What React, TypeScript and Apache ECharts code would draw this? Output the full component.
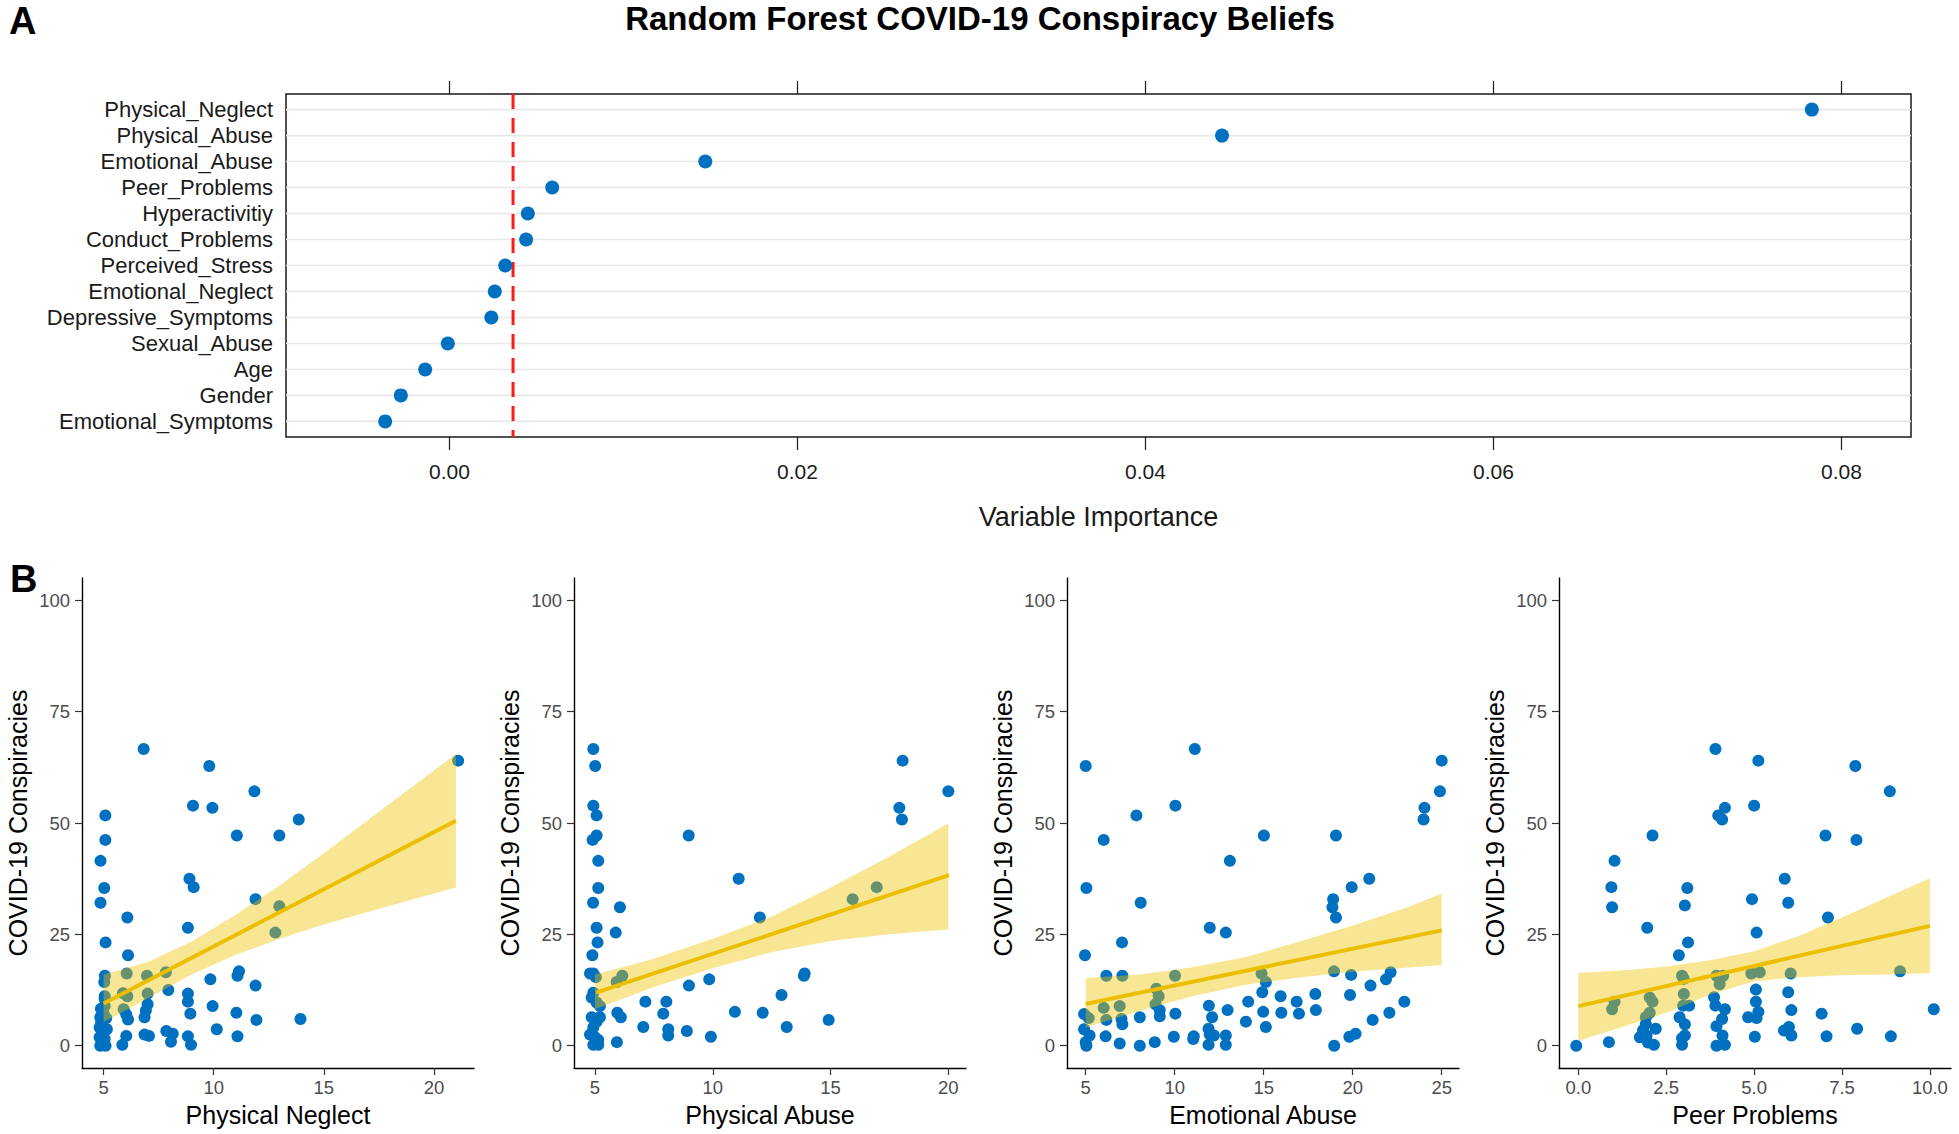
import React, { useEffect, useRef } from 'react';
import * as echarts from 'echarts';

// ---------- Panel A: variable importance ----------
const categories = [
  'Physical_Neglect', 'Physical_Abuse', 'Emotional_Abuse', 'Peer_Problems', 'Hyperactivitiy',
  'Conduct_Problems', 'Perceived_Stress', 'Emotional_Neglect', 'Depressive_Symptoms',
  'Sexual_Abuse', 'Age', 'Gender', 'Emotional_Symptoms',
];
const importance = [0.0783, 0.0444, 0.0147, 0.0059, 0.0045, 0.0044, 0.0032, 0.0026, 0.0024, -0.0001, -0.0014, -0.0028, -0.0037];
const importanceThreshold = [0.00365];
const importanceTicks = [0, 0.02, 0.04, 0.06, 0.08];

// ---------- Panel B: scatter plots ----------
const conspiracyTicks = [0, 25, 50, 75, 100];

const physicalNeglectPoints = [
  [6.82, 66.6], [9.8, 62.8], [21.1, 64.0], [11.85, 57.1], [9.06, 53.9], [9.94, 53.4], [5.08, 51.7], [13.86, 50.8],
  [5.08, 46.2], [11.05, 47.2], [12.98, 47.2], [4.86, 41.5], [8.9, 37.5], [9.09, 35.6], [5.03, 35.4], [4.86, 32.1],
  [11.9, 32.9], [12.98, 31.3], [8.83, 26.5], [12.8, 25.4], [6.08, 28.8], [5.09, 23.2], [6.11, 20.3], [5.06, 15.7],
  [5.03, 14.3], [6.05, 16.2], [6.97, 15.7], [7.83, 16.5], [9.85, 14.9], [11.08, 15.7], [11.15, 16.7], [11.9, 13.5],
  [7.94, 12.5], [5.88, 11.8], [6.08, 11.1], [5.05, 11.1], [7.0, 11.7], [8.83, 11.7], [5.05, 8.9], [4.88, 8.3],
  [8.83, 9.9], [9.95, 8.9], [11.03, 7.4], [8.94, 7.2], [6.92, 7.9], [7.0, 9.3], [5.91, 8.2], [6.03, 7.0],
  [6.11, 5.9], [6.86, 6.4], [11.94, 5.8], [13.94, 6.0], [4.85, 6.4], [5.12, 6.2], [4.82, 4.1], [5.15, 3.7],
  [10.14, 3.7], [7.85, 3.3], [8.14, 2.7], [6.86, 2.5], [7.06, 2.2], [6.03, 2.2], [8.83, 2.1], [11.08, 2.1],
  [4.82, 1.9], [5.05, 1.5], [8.06, 0.9], [5.85, 0.2], [8.97, 0.2], [4.85, 0], [5.09, 0], [5.0, 3.1],
  [4.89, 5.3], [5.0, 7.2], [5.05, 10.5],
];
const physicalNeglectLineX = [5, 21];
const physicalNeglectLineY = [9.5, 50.5];
const physicalNeglectBandX = [5, 7, 9, 11, 13, 15, 18, 21];
const physicalNeglectUpper = [16.0, 18.8, 23.4, 29.4, 36.0, 43.2, 54.4, 65.5];
const physicalNeglectLower = [5.3, 10.6, 16.0, 20.4, 24.0, 27.2, 31.4, 35.5];

const physicalAbusePoints = [
  [4.93, 66.6], [5.01, 62.8], [18.06, 64.0], [20.0, 57.1], [4.93, 53.9], [5.07, 51.7], [17.92, 53.4], [18.03, 50.8],
  [8.98, 47.2], [4.9, 46.2], [5.07, 47.2], [5.14, 41.5], [11.1, 37.5], [5.14, 35.4], [16.96, 35.6], [15.94, 32.9],
  [4.92, 32.1], [6.06, 31.1], [12.0, 28.8], [5.07, 26.5], [5.88, 25.4], [5.11, 23.2], [4.89, 20.3], [4.93, 16.2],
  [13.9, 16.2], [13.87, 15.7], [6.16, 15.7], [5.92, 14.3], [9.85, 14.9], [8.99, 13.5], [12.92, 11.4], [7.14, 9.9],
  [8.03, 9.9], [7.9, 7.2], [10.94, 7.6], [12.12, 7.4], [14.92, 5.8], [5.95, 7.4], [6.1, 6.4], [7.05, 4.2],
  [8.11, 3.7], [8.11, 2.3], [8.9, 3.3], [9.92, 2.0], [13.14, 4.2], [5.93, 0.8], [4.93, 11.9], [4.86, 10.8],
  [5.07, 9.7], [5.21, 8.9], [4.86, 6.4], [5.07, 5.4], [4.93, 4.1], [4.79, 2.5], [5.0, 1.9], [5.14, 1.3],
  [4.93, 0.2], [5.14, 0.2], [5.21, 6.4], [5.04, 15.4], [4.79, 16.2],
];
const physicalAbuseLineX = [5.04, 20.03];
const physicalAbuseLineY = [11.9, 38.3];
const physicalAbuseBandX = [5, 7.5, 10, 12.5, 15, 17.5, 20];
const physicalAbuseUpper = [16.0, 19.5, 24.0, 29.0, 35.5, 42.5, 49.9];
const physicalAbuseLower = [8.2, 13.2, 17.4, 21.0, 23.5, 25.0, 26.1];

const emotionalAbusePoints = [
  [11.13, 66.6], [5.0, 62.8], [25.0, 64.0], [24.9, 57.1], [10.04, 53.9], [24.03, 53.4], [7.85, 51.7], [23.98, 50.8],
  [6.01, 46.2], [15.01, 47.2], [19.06, 47.2], [13.1, 41.5], [20.93, 37.5], [5.04, 35.4], [19.94, 35.6], [18.9, 32.9],
  [8.09, 32.1], [18.86, 31.1], [19.06, 28.8], [11.97, 26.5], [12.87, 25.4], [7.04, 23.2], [4.96, 20.3], [6.16, 15.7],
  [7.06, 15.7], [10.02, 15.7], [14.88, 16.2], [15.12, 14.3], [18.95, 16.7], [19.91, 15.9], [22.13, 16.5], [21.87, 14.9],
  [21.0, 13.5], [8.97, 12.8], [9.1, 11.1], [14.92, 12.0], [15.95, 11.1], [17.9, 11.6], [19.85, 11.4], [14.13, 9.9],
  [16.85, 9.9], [22.9, 9.9], [8.92, 9.3], [6.01, 8.5], [6.91, 8.9], [11.92, 9.0], [12.97, 8.0], [17.93, 8.0],
  [9.16, 8.0], [9.16, 6.6], [10.04, 7.2], [12.1, 6.4], [14.97, 7.6], [15.99, 7.4], [16.98, 7.2], [22.06, 7.4],
  [4.91, 7.1], [5.17, 6.2], [6.16, 5.8], [7.01, 6.0], [7.06, 4.8], [8.04, 6.4], [21.12, 5.8], [14.0, 5.4],
  [15.12, 4.2], [4.91, 3.7], [11.9, 3.8], [11.97, 2.5], [12.2, 2.3], [12.87, 2.3], [6.12, 2.1], [9.95, 2.0],
  [11.04, 1.5], [11.07, 2.1], [19.81, 2.0], [20.16, 2.7], [5.22, 2.3], [5.0, 0.8], [6.91, 0.5], [8.04, 0],
  [8.88, 0.8], [11.9, 0.2], [12.87, 0.2], [18.96, 0], [5.04, 0],
];
const emotionalAbuseLineX = [5, 25];
const emotionalAbuseLineY = [9.4, 25.9];
const emotionalAbuseBandX = [5, 8, 11, 14, 17, 20, 23, 25];
const emotionalAbuseUpper = [15.2, 16.0, 17.6, 19.9, 23.4, 27.0, 31.0, 34.2];
const emotionalAbuseLower = [4.1, 7.8, 11.1, 13.7, 15.3, 16.6, 17.5, 18.1];

const peerProblemsPoints = [
  [3.9, 66.6], [5.12, 64.0], [7.88, 62.8], [8.86, 57.1], [5.0, 53.9], [4.17, 53.4], [3.98, 51.7], [4.09, 50.8],
  [2.11, 47.2], [7.03, 47.2], [7.91, 46.2], [1.03, 41.5], [5.87, 37.5], [0.94, 35.6], [3.1, 35.4], [4.94, 32.9],
  [0.96, 31.1], [3.03, 31.5], [5.97, 32.1], [7.1, 28.8], [1.96, 26.5], [5.07, 25.4], [3.12, 23.2], [2.86, 20.3],
  [9.15, 16.7], [6.04, 16.2], [4.92, 16.2], [5.16, 16.5], [4.12, 15.7], [3.93, 15.7], [2.95, 15.7], [4.02, 13.8],
  [3.0, 15.0], [5.05, 12.6], [5.97, 12.0], [3.0, 11.6], [2.03, 10.8], [2.11, 9.9], [1.03, 9.9], [0.96, 8.2],
  [3.86, 10.9], [5.05, 9.9], [10.11, 8.2], [6.06, 8.0], [6.92, 7.2], [2.98, 9.0], [3.15, 9.0], [3.9, 9.0],
  [4.17, 8.2], [5.12, 7.6], [2.03, 7.4], [1.92, 6.4], [2.88, 6.4], [4.09, 6.0], [4.83, 6.4], [5.07, 6.2],
  [3.03, 4.8], [1.92, 4.9], [3.93, 4.4], [2.2, 3.8], [1.84, 3.5], [5.85, 3.4], [5.99, 4.2], [7.93, 3.8],
  [3.03, 2.3], [2.95, 1.7], [4.1, 2.3], [5.02, 2.0], [6.06, 2.3], [7.06, 2.1], [8.89, 2.1], [0.87, 0.8],
  [1.98, 0.7], [2.15, 0.2], [2.95, 0.2], [3.93, 0], [4.17, 0.2], [-0.06, 0], [1.75, 1.9], [1.94, 2.3],
];
const peerProblemsLineX = [0, 10];
const peerProblemsLineY = [8.9, 26.9];
const peerProblemsBandX = [0, 1.25, 2.5, 3.75, 5, 6.25, 7.5, 8.75, 10];
const peerProblemsUpper = [16.4, 16.9, 17.8, 19.2, 21.2, 24.6, 28.8, 33.2, 37.6];
const peerProblemsLower = [1.1, 4.2, 7.4, 11.5, 14.5, 15.4, 15.8, 16.0, 16.3];

// ---------- styling ----------
const FONT = 'Liberation Sans, Arial, Helvetica, sans-serif';
const DOT = '#0070c0';
const LINE = '#ebbf00';
const BAND = 'rgba(240,196,0,0.42)';
const TOP_X_MIN = -0.0094;
const TOP_X_MAX = 0.084;
const TOP_Y_MIN = -0.6;
const TOP_Y_MAX = 12.6;

const panels = [
  { name: 'Physical Neglect', points: physicalNeglectPoints, lineX: physicalNeglectLineX, lineY: physicalNeglectLineY,
    bandX: physicalNeglectBandX, upper: physicalNeglectUpper, lower: physicalNeglectLower,
    min: 4.02, max: 21.82, ticks: [5, 10, 15, 20], digits: 0, left: 82 },
  { name: 'Physical Abuse', points: physicalAbusePoints, lineX: physicalAbuseLineX, lineY: physicalAbuseLineY,
    bandX: physicalAbuseBandX, upper: physicalAbuseUpper, lower: physicalAbuseLower,
    min: 4.11, max: 20.75, ticks: [5, 10, 15, 20], digits: 0, left: 574 },
  { name: 'Emotional Abuse', points: emotionalAbusePoints, lineX: emotionalAbuseLineX, lineY: emotionalAbuseLineY,
    bandX: emotionalAbuseBandX, upper: emotionalAbuseUpper, lower: emotionalAbuseLower,
    min: 3.95, max: 25.97, ticks: [5, 10, 15, 20, 25], digits: 0, left: 1067 },
  { name: 'Peer Problems', points: peerProblemsPoints, lineX: peerProblemsLineX, lineY: peerProblemsLineY,
    bandX: peerProblemsBandX, upper: peerProblemsUpper, lower: peerProblemsLower,
    min: -0.55, max: 10.6, ticks: [0, 2.5, 5, 7.5, 10], digits: 1, left: 1559 },
];

export default function App() {
  const ref = useRef<HTMLDivElement>(null);

  useEffect(() => {
    if (!ref.current) return;
    const chart = echarts.init(ref.current, null, { renderer: 'svg' });

    const grid: any[] = [
      { left: 286, top: 94, width: 1625, height: 343, show: true, borderColor: '#1a1a1a', borderWidth: 1.5, backgroundColor: 'transparent' },
    ];
    const xAxis: any[] = [
      {
        gridIndex: 0, type: 'value', position: 'bottom', min: TOP_X_MIN, max: TOP_X_MAX,
        axisLine: { show: false, onZero: false }, splitLine: { show: false },
        axisTick: { show: true, length: 13, customValues: importanceTicks, lineStyle: { color: '#1a1a1a', width: 1.2 } },
        axisLabel: { customValues: importanceTicks, formatter: (v: number) => v.toFixed(2), fontSize: 21, color: '#1a1a1a', margin: 24, fontFamily: FONT },
        name: 'Variable Importance', nameLocation: 'middle', nameGap: 66,
        nameTextStyle: { fontSize: 27, color: '#1a1a1a', fontFamily: FONT },
      },
      {
        gridIndex: 0, type: 'value', position: 'top', min: TOP_X_MIN, max: TOP_X_MAX,
        axisLine: { show: false, onZero: false }, splitLine: { show: false },
        axisTick: { show: true, length: 13, customValues: importanceTicks, lineStyle: { color: '#1a1a1a', width: 1.2 } },
        axisLabel: { show: false },
      },
    ];
    const yAxis: any[] = [
      {
        gridIndex: 0, type: 'value', inverse: true, min: TOP_Y_MIN, max: TOP_Y_MAX,
        axisLine: { show: false, onZero: false }, axisTick: { show: false }, splitLine: { show: false },
        axisLabel: {
          customValues: categories.map((_, i) => i),
          formatter: (v: number) => categories[Math.round(v)] ?? '',
          fontSize: 22, color: '#1a1a1a', margin: 13, fontFamily: FONT,
        },
      },
    ];
    const series: any[] = [
      {
        type: 'custom', xAxisIndex: 0, yAxisIndex: 0, silent: true, z: 1,
        data: categories.map((_, i) => [0, i]),
        renderItem: (_p: any, api: any) => {
          const i = api.value(1);
          const a = api.coord([TOP_X_MIN, i]);
          const b = api.coord([TOP_X_MAX, i]);
          return { type: 'line', shape: { x1: a[0], y1: a[1], x2: b[0], y2: b[1] }, style: { stroke: '#e8e8e8', lineWidth: 1.6 } };
        },
      },
      {
        type: 'custom', xAxisIndex: 0, yAxisIndex: 0, silent: true, z: 2,
        data: importanceThreshold.map((v) => [v, 0]),
        renderItem: (_p: any, api: any) => {
          const v = api.value(0);
          const a = api.coord([v, TOP_Y_MIN]);
          const b = api.coord([v, TOP_Y_MAX]);
          return {
            type: 'line', shape: { x1: a[0], y1: a[1], x2: b[0], y2: b[1] },
            style: { stroke: '#ff1a1a', lineWidth: 3, lineDash: [15, 9] },
          };
        },
      },
      {
        type: 'scatter', xAxisIndex: 0, yAxisIndex: 0, z: 3,
        data: importance.map((v, i) => [v, i]),
        symbolSize: 14, itemStyle: { color: DOT, opacity: 1 },
      },
    ];

    panels.forEach((p, k) => {
      const gi = k + 1;
      const xi = k + 2;
      const yi = k + 1;
      grid.push({ left: p.left, top: 578, width: 392, height: 490 });
      xAxis.push({
        gridIndex: gi, type: 'value', min: p.min, max: p.max,
        axisLine: { show: true, onZero: false, lineStyle: { color: '#000', width: 1.4 } },
        axisTick: { show: true, length: 7, customValues: p.ticks, lineStyle: { color: '#333', width: 1.2 } },
        axisLabel: { customValues: p.ticks, formatter: (v: number) => v.toFixed(p.digits), fontSize: 18.5, color: '#4d4d4d', margin: 10, fontFamily: FONT },
        splitLine: { show: false },
        name: p.name, nameLocation: 'middle', nameGap: 34,
        nameTextStyle: { fontSize: 25, color: '#000', fontFamily: FONT },
      });
      yAxis.push({
        gridIndex: gi, type: 'value', min: -5, max: 105,
        axisLine: { show: true, onZero: false, lineStyle: { color: '#000', width: 1.4 } },
        axisTick: { show: true, length: 7, customValues: conspiracyTicks, lineStyle: { color: '#333', width: 1.2 } },
        axisLabel: { customValues: conspiracyTicks, fontSize: 18.5, color: '#4d4d4d', margin: 12, fontFamily: FONT },
        splitLine: { show: false },
        name: 'COVID-19 Conspiracies', nameLocation: 'middle', nameRotate: 90, nameGap: 52,
        nameTextStyle: { fontSize: 25, color: '#000', fontFamily: FONT },
      });
      series.push({
        type: 'scatter', xAxisIndex: xi, yAxisIndex: yi, z: 2,
        data: p.points, symbolSize: 12, itemStyle: { color: DOT, opacity: 1 },
      });
      series.push({
        type: 'custom', xAxisIndex: xi, yAxisIndex: yi, z: 3, silent: true,
        data: [[p.bandX[0], p.upper[0]]],
        renderItem: (_pa: any, api: any) => {
          const pts: number[][] = [];
          for (let j = 0; j < p.bandX.length; j++) pts.push(api.coord([p.bandX[j], p.upper[j]]));
          for (let j = p.bandX.length - 1; j >= 0; j--) pts.push(api.coord([p.bandX[j], p.lower[j]]));
          return { type: 'polygon', shape: { points: pts }, style: { fill: BAND } };
        },
      });
      series.push({
        type: 'line', xAxisIndex: xi, yAxisIndex: yi, z: 4, silent: true,
        data: p.lineX.map((x, j) => [x, p.lineY[j]]),
        symbol: 'none', lineStyle: { color: LINE, width: 4 },
      });
    });

    chart.setOption({
      animation: false,
      backgroundColor: '#ffffff',
      textStyle: { fontFamily: FONT },
      grid, xAxis, yAxis, series,
      graphic: [
        { type: 'text', x: 9, y: 21, style: { text: 'A', fontSize: 38, fontWeight: 'bold', fill: '#000', fontFamily: FONT, verticalAlign: 'middle' } },
        { type: 'text', x: 980, y: 18, style: { text: 'Random Forest COVID-19 Conspiracy Beliefs', fontSize: 33, fontWeight: 'bold', fill: '#000', fontFamily: FONT, align: 'center', verticalAlign: 'middle' } },
        { type: 'text', x: 10, y: 579, style: { text: 'B', fontSize: 38, fontWeight: 'bold', fill: '#000', fontFamily: FONT, verticalAlign: 'middle' } },
      ],
    });

    return () => chart.dispose();
  }, []);

  return <div ref={ref} style={{ position: 'fixed', left: 0, top: 0, width: 1959, height: 1134, background: '#fff' }} />;
}
